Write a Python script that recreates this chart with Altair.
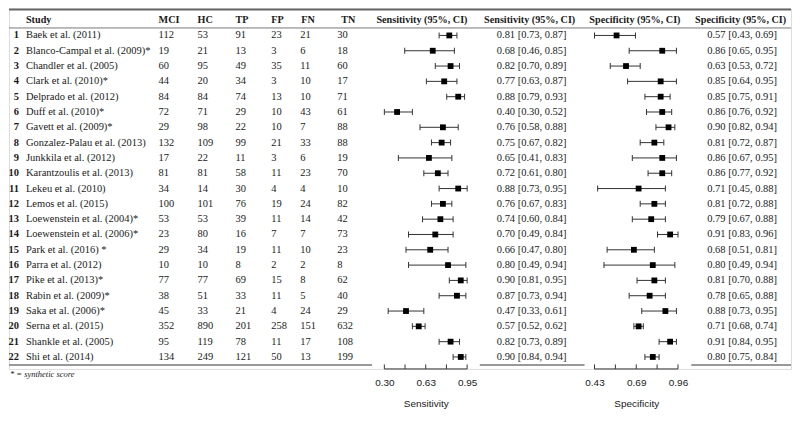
import altair as alt
import pandas as pd

studies = ["Baek et al. (2011)", "Blanco-Campal et al. (2009)*", "Chandler et al. (2005)",
           "Clark et al. (2010)*", "Delprado et al. (2012)", "Duff et al. (2010)*",
           "Gavett et al. (2009)*", "Gonzalez-Palau et al. (2013)", "Junkkila et al. (2012)",
           "Karantzoulis et al. (2013)", "Lekeu et al. (2010)", "Lemos et al. (2015)",
           "Loewenstein et al. (2004)*", "Loewenstein et al. (2006)*", "Park et al. (2016) *",
           "Parra et al. (2012)", "Pike et al. (2013)*", "Rabin et al. (2009)*",
           "Saka et al. (2006)*", "Serna et al. (2015)", "Shankle et al. (2005)", "Shi et al. (2014)"]
mci = [112, 19, 60, 44, 84, 72, 29, 132, 17, 81, 34, 100, 53, 23, 29, 10, 77, 38, 45, 352, 95, 134]
hc = [53, 21, 95, 20, 84, 71, 98, 109, 22, 81, 14, 101, 53, 80, 34, 10, 77, 51, 33, 890, 119, 249]
tp = [91, 13, 49, 34, 74, 29, 22, 99, 11, 58, 30, 76, 39, 16, 19, 8, 69, 33, 21, 201, 78, 121]
fp = [23, 3, 35, 3, 13, 10, 10, 21, 3, 11, 4, 19, 11, 7, 11, 2, 15, 11, 4, 258, 11, 50]
fn = [21, 6, 11, 10, 10, 43, 7, 33, 6, 23, 4, 24, 14, 7, 10, 2, 8, 5, 24, 151, 17, 13]
tn = [30, 18, 60, 17, 71, 61, 88, 88, 19, 70, 10, 82, 42, 73, 23, 8, 62, 40, 29, 632, 108, 199]

sens = [0.81, 0.68, 0.82, 0.77, 0.88, 0.40, 0.76, 0.75, 0.65, 0.72, 0.88, 0.76, 0.74, 0.70, 0.66, 0.80, 0.90, 0.87, 0.47, 0.57, 0.82, 0.90]
sens_lo = [0.73, 0.46, 0.70, 0.63, 0.79, 0.30, 0.58, 0.67, 0.41, 0.61, 0.73, 0.67, 0.60, 0.49, 0.47, 0.49, 0.81, 0.73, 0.33, 0.52, 0.73, 0.84]
sens_hi = [0.87, 0.85, 0.89, 0.87, 0.93, 0.52, 0.88, 0.82, 0.83, 0.80, 0.95, 0.83, 0.84, 0.84, 0.80, 0.94, 0.95, 0.94, 0.61, 0.62, 0.89, 0.94]
spec = [0.57, 0.86, 0.63, 0.85, 0.85, 0.86, 0.90, 0.81, 0.86, 0.86, 0.71, 0.81, 0.79, 0.91, 0.68, 0.80, 0.81, 0.78, 0.88, 0.71, 0.91, 0.80]
spec_lo = [0.43, 0.65, 0.53, 0.64, 0.75, 0.76, 0.82, 0.72, 0.67, 0.77, 0.45, 0.72, 0.67, 0.83, 0.51, 0.49, 0.70, 0.65, 0.73, 0.68, 0.84, 0.75]
spec_hi = [0.69, 0.95, 0.72, 0.95, 0.91, 0.92, 0.94, 0.87, 0.95, 0.92, 0.88, 0.88, 0.88, 0.96, 0.81, 0.94, 0.88, 0.88, 0.95, 0.74, 0.95, 0.84]

sens_ticks = [0.30, 0.4625, 0.625, 0.7875, 0.95]
sens_labels = [0.30, 0.625, 0.95]
spec_ticks = [0.43, 0.5625, 0.695, 0.8275, 0.96]
spec_labels = [0.43, 0.695, 0.96]

n = len(studies)
df = pd.DataFrame({
    "row": list(range(1, n + 1)), "study": studies, "mci": mci, "hc": hc, "tp": tp,
    "fp": fp, "fn": fn, "tn": tn, "sens": sens, "sens_lo": sens_lo, "sens_hi": sens_hi,
    "spec": spec, "spec_lo": spec_lo, "spec_hi": spec_hi,
})
df["num"] = df["row"].astype(str)
for c in ["mci", "hc", "tp", "fp", "fn", "tn"]:
    df[c + "_s"] = df[c].astype(str)
df["sens_txt"] = [f"{a:.2f} [{b:.2f}, {c:.2f}]" for a, b, c in zip(sens, sens_lo, sens_hi)]
df["spec_txt"] = [f"{a:.2f} [{b:.2f}, {c:.2f}]" for a, b, c in zip(spec, spec_lo, spec_hi)]

W = 784
ROW_TOP, ROW_STEP = 27, 15.35
ROW_LAST = ROW_TOP + (n - 1) * ROW_STEP
BOTTOM_LINE = ROW_LAST + 8
HP = BOTTOM_LINE + 4
SERIF = "Liberation Serif"
SANS = "Liberation Sans"
TXT = "#1a1a1a"
AX = "#333333"
LINE = "#777777"

yscale = alt.Scale(domain=[1, n], range=[ROW_TOP, ROW_LAST])
Y = alt.Y("row:Q", scale=yscale, axis=None)

layers = []

def text_col(field, x, align="left", bold=False):
    return alt.Chart(df).mark_text(
        align=align, baseline="middle", font=SERIF, fontSize=10.5,
        fontWeight="bold" if bold else "normal", color=TXT
    ).encode(x=alt.value(x), y=Y, text=f"{field}:N")

layers.append(text_col("num", 10, align="right", bold=True))
layers.append(text_col("study", 17))
for f, x in [("mci_s", 150), ("hc_s", 189), ("tp_s", 227), ("fp_s", 263), ("fn_s", 292), ("tn_s", 329)]:
    layers.append(text_col(f, x))
layers.append(text_col("sens_txt", 559, align="right"))
layers.append(text_col("spec_txt", 770, align="right"))

headers = [("Study", 17, "left"), ("MCI", 150, "left"), ("HC", 189, "left"), ("TP", 227, "left"),
           ("FP", 263, "left"), ("FN", 293, "left"), ("TN", 333, "left"),
           ("Sensitivity (95%, CI)", 414, "center"), ("Sensitivity (95%, CI)", 522, "center"),
           ("Specificity (95%, CI)", 627.5, "center"), ("Specificity (95%, CI)", 733.5, "center")]
for label, x, al in headers:
    layers.append(alt.Chart(pd.DataFrame({"t": [label]})).mark_text(
        align=al, baseline="middle", font=SERIF, fontSize=10.2, fontWeight="bold", color=TXT
    ).encode(x=alt.value(x), y=alt.value(12), text="t:N"))

layers.append(alt.Chart(pd.DataFrame({"t": ["* = synthetic score"]})).mark_text(
    align="left", baseline="middle", font=SERIF, fontSize=8.5, fontStyle="italic", color=TXT
).encode(x=alt.value(1), y=alt.value(BOTTOM_LINE + 9), text="t:N"))

def hline(x0, x1, y, w, color):
    return alt.Chart(pd.DataFrame({"a": [0]})).mark_rule(color=color, strokeWidth=w).encode(
        x=alt.value(x0), x2=alt.value(x1), y=alt.value(y))

layers.append(hline(0, W, 1, 2, "#666666"))
layers.append(hline(0, W, 19.5, 1, LINE))
for x0, x1 in [(0, 364), (472, 577), (684, W)]:
    layers.append(hline(x0, x1, BOTTOM_LINE, 1.5, LINE))

def forest(est, lo, hi, dom, rng, ticks, labels, title):
    sc = alt.Scale(domain=dom, range=rng, zero=False, nice=False)
    ax = alt.Axis(values=labels, format=".2f", domain=False, ticks=False, grid=False,
                  labelFlush=False, orient="bottom", title=title,
                  labelFont=SANS, labelFontSize=10, labelColor=TXT, labelPadding=9,
                  titleFont=SANS, titleFontSize=10, titleFontWeight="normal",
                  titleColor=TXT, titlePadding=11)
    base = alt.Chart(df)
    ci = base.mark_rule(color=AX, strokeWidth=1).encode(
        x=alt.X(f"{lo}:Q", scale=sc, axis=ax), x2=f"{hi}:Q", y=Y)
    cap_lo = base.mark_tick(orient="vertical", size=6, thickness=1, color=AX, opacity=1).encode(
        x=alt.X(f"{lo}:Q", scale=sc, axis=ax), y=Y)
    cap_hi = base.mark_tick(orient="vertical", size=6, thickness=1, color=AX, opacity=1).encode(
        x=alt.X(f"{hi}:Q", scale=sc, axis=ax), y=Y)
    pt = base.mark_square(size=34, color="black", opacity=1).encode(
        x=alt.X(f"{est}:Q", scale=sc, axis=ax), y=Y)
    tks = alt.Chart(pd.DataFrame({"v": ticks})).mark_rule(color=AX, strokeWidth=1).encode(
        x=alt.X("v:Q", scale=sc, axis=ax), y=alt.value(HP - 4.5), y2=alt.value(HP))
    dline = alt.Chart(pd.DataFrame({"a": [ticks[0]], "b": [ticks[-1]]})).mark_rule(
        color=AX, strokeWidth=1).encode(
        x=alt.X("a:Q", scale=sc, axis=ax), x2="b:Q", y=alt.value(HP))
    return alt.layer(ci, cap_lo, cap_hi, pt, tks, dline)

sens_group = forest("sens", "sens_lo", "sens_hi", [0.30, 0.95], [376.3, 459.3],
                    sens_ticks, sens_labels, "Sensitivity")
spec_group = forest("spec", "spec_lo", "spec_hi", [0.43, 0.96], [587, 670.7],
                    spec_ticks, spec_labels, "Specificity")

chart = alt.layer(*layers, sens_group, spec_group).resolve_scale(x="independent").properties(
    width=W, height=HP, padding=0
).configure_view(stroke=None).configure(background="white")

chart.save("out.html", embed_options={"renderer": "svg", "actions": False})
